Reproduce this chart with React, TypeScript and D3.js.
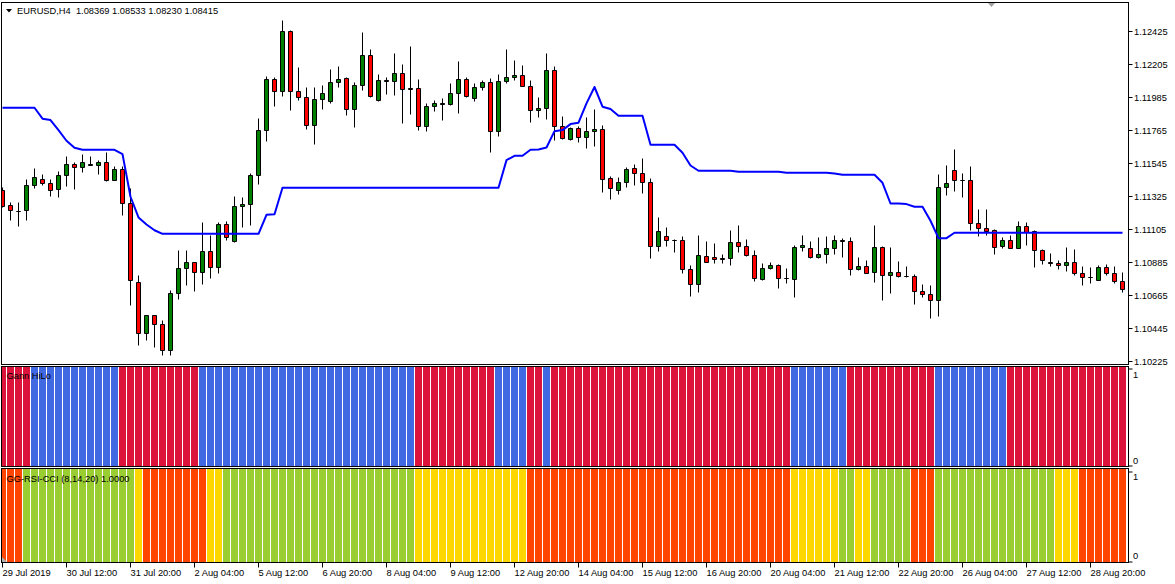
import React from "react";
import * as d3 from "d3";

// ---------- DATA ----------
const opens = [
  1.11365, 1.11263, 1.11223, 1.11227, 1.11394, 1.11436, 1.11409, 1.11369, 1.11461, 1.11536,
  1.11516, 1.11533, 1.11527, 1.11549, 1.11432, 1.11503, 1.11276, 1.10749, 1.10409, 1.10529,
  1.10469, 1.10294, 1.10674, 1.10841, 1.10883, 1.10814, 1.10958, 1.10847, 1.11136, 1.11023,
  1.11256, 1.11267, 1.11463, 1.11763, 1.12103, 1.12023, 1.12423, 1.12023, 1.11983, 1.11796,
  1.11969, 1.11956, 1.12083, 1.12109, 1.11903, 1.12063, 1.12263, 1.11963, 1.12089, 1.12089,
  1.12143, 1.12041, 1.12043, 1.11789, 1.11923, 1.11936, 1.11934, 1.12007, 1.12103, 1.11976,
  1.12049, 1.12083, 1.11756, 1.12089, 1.12116, 1.12129, 1.12056, 1.11896, 1.11907, 1.12163,
  1.11787, 1.11703, 1.11776, 1.11716, 1.11756, 1.11769, 1.11443, 1.11363, 1.11416, 1.11509,
  1.11476, 1.11416, 1.10987, 1.11056, 1.11032, 1.11029, 1.10836, 1.10736, 1.10923, 1.10916,
  1.10909, 1.10909, 1.11016, 1.10989, 1.10929, 1.10769, 1.10841, 1.10863, 1.10778, 1.10769,
  1.10983, 1.10976, 1.10916, 1.10936, 1.10976, 1.11029, 1.11025, 1.10836, 1.10856, 1.10814,
  1.10983, 1.10794, 1.10816, 1.10792, 1.10789, 1.10689, 1.10669, 1.10629, 1.11383, 1.11496,
  1.11432, 1.11429, 1.11143, 1.11109, 1.11096, 1.10987, 1.11029, 1.10974, 1.11123, 1.11087,
  1.10963, 1.10883, 1.10876, 1.10863, 1.10883, 1.10809, 1.10785, 1.10763, 1.10849, 1.10809,
  1.10754,
];

const highs = [
  1.11383, 1.11285, 1.11285, 1.11436, 1.11507, 1.11467, 1.11438, 1.11492, 1.11592, 1.11547,
  1.11605, 1.11592, 1.11565, 1.11616, 1.11525, 1.11521, 1.11374, 1.10798, 1.10529, 1.10529,
  1.10498, 1.10698, 1.10961, 1.10965, 1.10883, 1.11152, 1.11065, 1.11152, 1.11158, 1.11325,
  1.11318, 1.11474, 1.11841, 1.12125, 1.12114, 1.12492, 1.12427, 1.12183, 1.12049, 1.12049,
  1.12063, 1.12169, 1.12189, 1.12116, 1.12083, 1.12416, 1.12303, 1.12136, 1.12116, 1.12276,
  1.12203, 1.12323, 1.12103, 1.11943, 1.11965, 1.11976, 1.12076, 1.12223, 1.12116, 1.12076,
  1.12096, 1.12109, 1.12136, 1.12303, 1.12229, 1.12196, 1.12096, 1.11983, 1.12278, 1.12189,
  1.11856, 1.11783, 1.11792, 1.11849, 1.11903, 1.11796, 1.11458, 1.11449, 1.11516, 1.11538,
  1.11578, 1.11443, 1.11185, 1.11118, 1.11036, 1.11058, 1.10865, 1.11065, 1.11025, 1.11012,
  1.10938, 1.11098, 1.11132, 1.11034, 1.10965, 1.10878, 1.10883, 1.10867, 1.10845, 1.10998,
  1.11065, 1.11025, 1.11052, 1.11058, 1.11065, 1.11045, 1.11049, 1.10918, 1.10898, 1.11132,
  1.10989, 1.10985, 1.10892, 1.10858, 1.10803, 1.10738, 1.10732, 1.11472, 1.11532, 1.11636,
  1.11476, 1.11525, 1.11238, 1.11238, 1.11101, 1.11049, 1.11065, 1.11158, 1.11149, 1.11096,
  1.10969, 1.10941, 1.10898, 1.10981, 1.10972, 1.10856, 1.10852, 1.10863, 1.10869, 1.10856,
  1.10818,
];

const lows = [
  1.11249, 1.11161, 1.11121, 1.11165, 1.11376, 1.11394, 1.11325, 1.11314, 1.11387, 1.11372,
  1.11485, 1.11527, 1.11472, 1.11423, 1.11427, 1.11194, 1.10594, 1.10327, 1.10365, 1.10316,
  1.10261, 1.10261, 1.10634, 1.10732, 1.10687, 1.10738, 1.10774, 1.10807, 1.11032, 1.11014,
  1.11114, 1.11132, 1.11405, 1.11692, 1.11925, 1.11987, 1.11894, 1.11961, 1.11767, 1.11667,
  1.11901, 1.11941, 1.12047, 1.11861, 1.11781, 1.12027, 1.11983, 1.11956, 1.12001, 1.11994,
  1.11807, 1.11869, 1.11761, 1.11754, 1.11887, 1.11827, 1.11927, 1.11874, 1.11985, 1.11954,
  1.12027, 1.11614, 1.11721, 1.12076, 1.12094, 1.12054, 1.11814, 1.11847, 1.11834, 1.11694,
  1.11703, 1.11694, 1.11681, 1.11643, 1.11654, 1.11347, 1.11301, 1.11334, 1.11381, 1.11394,
  1.11341, 1.10907, 1.10954, 1.10987, 1.10947, 1.10807, 1.10656, 1.10681, 1.1088, 1.10874,
  1.10874, 1.10865, 1.10947, 1.10921, 1.10754, 1.10761, 1.10834, 1.10707, 1.10741, 1.10649,
  1.10954, 1.10907, 1.10907, 1.10874, 1.10936, 1.10914, 1.10794, 1.10832, 1.10807, 1.10747,
  1.10627, 1.10674, 1.10781, 1.10781, 1.10601, 1.10649, 1.10507, 1.10523, 1.11327, 1.11354,
  1.11314, 1.11098, 1.11054, 1.11061, 1.10934, 1.10974, 1.10974, 1.10974, 1.10994, 1.10847,
  1.10867, 1.10856, 1.10834, 1.10821, 1.10794, 1.10727, 1.10741, 1.10761, 1.10794, 1.10741,
  1.10681,
];

const closes = [
  1.11258, 1.11229, 1.11223, 1.11398, 1.11449, 1.11409, 1.11361, 1.11463, 1.11536, 1.11514,
  1.11549, 1.1153, 1.11549, 1.11432, 1.11503, 1.11276, 1.10761, 1.10409, 1.10529, 1.10469,
  1.10298, 1.10676, 1.10843, 1.10883, 1.10814, 1.10958, 1.10847, 1.11136, 1.11049, 1.11256,
  1.11272, 1.11465, 1.11763, 1.12103, 1.12023, 1.12423, 1.12023, 1.11983, 1.11796, 1.11969,
  1.12009, 1.12083, 1.12103, 1.11903, 1.12063, 1.12263, 1.11989, 1.12096, 1.12098, 1.12143,
  1.12036, 1.12036, 1.11789, 1.11923, 1.11943, 1.11941, 1.12009, 1.12103, 1.11989, 1.12049,
  1.12083, 1.11756, 1.12089, 1.12116, 1.12129, 1.12056, 1.11896, 1.11909, 1.12163, 1.11789,
  1.11709, 1.11776, 1.11716, 1.11756, 1.11772, 1.11434, 1.11376, 1.11416, 1.11503, 1.11476,
  1.11416, 1.10987, 1.11092, 1.11029, 1.11032, 1.10836, 1.10736, 1.10929, 1.10883, 1.10901,
  1.10905, 1.11016, 1.10987, 1.10927, 1.10776, 1.10843, 1.10863, 1.10776, 1.10774, 1.10983,
  1.10996, 1.10916, 1.10936, 1.10976, 1.11029, 1.11025, 1.10836, 1.10856, 1.10809, 1.10983,
  1.10794, 1.10816, 1.10787, 1.10787, 1.10687, 1.10669, 1.10629, 1.11383, 1.11409, 1.11429,
  1.11427, 1.11143, 1.11109, 1.11089, 1.10983, 1.11029, 1.10976, 1.11123, 1.11083, 1.10963,
  1.10896, 1.10876, 1.10863, 1.10883, 1.10809, 1.10783, 1.10781, 1.10849, 1.10809, 1.10754,
  1.10703,
];

// Gann HiLo activator line on the price chart
const gannLine = [
  1.11914, 1.11914, 1.11914, 1.11914, 1.11914, 1.11841, 1.11832, 1.11765, 1.11694, 1.11647,
  1.11634, 1.11634, 1.11634, 1.11634, 1.11634, 1.11605, 1.11321, 1.11183, 1.11136, 1.11098,
  1.11074, 1.11074, 1.11074, 1.11074, 1.11074, 1.11074, 1.11074, 1.11074, 1.11074, 1.11074,
  1.11074, 1.11074, 1.11074, 1.11201, 1.11205, 1.11381, 1.11381, 1.11381, 1.11381, 1.11381,
  1.11381, 1.11381, 1.11381, 1.11381, 1.11381, 1.11381, 1.11381, 1.11381, 1.11381, 1.11381,
  1.11381, 1.11381, 1.11381, 1.11381, 1.11381, 1.11381, 1.11381, 1.11381, 1.11381, 1.11381,
  1.11381, 1.11381, 1.11381, 1.11565, 1.11594, 1.11594, 1.11634, 1.11636, 1.11649, 1.11758,
  1.11765, 1.11805, 1.11814, 1.11943, 1.12052, 1.11921, 1.11905, 1.11861, 1.11861, 1.11861,
  1.11861, 1.11667, 1.11667, 1.11667, 1.11667, 1.11614, 1.11529, 1.11494, 1.11494, 1.11494,
  1.11494, 1.11494, 1.11487, 1.11487, 1.11487, 1.11487, 1.11487, 1.11487, 1.11481, 1.11481,
  1.11481, 1.11481, 1.11481, 1.11481, 1.11476, 1.11467, 1.11467, 1.11467, 1.11467, 1.11467,
  1.11414, 1.11276, 1.11276, 1.11272, 1.11254, 1.11254, 1.11161, 1.11045, 1.11045, 1.11081,
  1.11081, 1.11081, 1.11081, 1.11081, 1.11081, 1.11081, 1.11081, 1.11081, 1.11081, 1.11081,
  1.11081, 1.11081, 1.11081, 1.11081, 1.11081, 1.11081, 1.11081, 1.11081, 1.11081, 1.11081,
  1.11081,
];

// per-bar state of the "Gann HiLo" sub-window (R = down, B = up)
const gannStates = (
  "RRRRBBBBBB BBBBBRRRRR RRRRRBBBBB BBBBBBBBBB BBBBBBBBBB " +
  "BBRRRRRRRR RRBBBBRRBR RRRRRRRRRR RRRRRRRRRR RRRRRRRRRB " +
  "BBBBBBRRRR RRRRRRRBBB BBBBBBRRRR RRRRRRRRRR R"
).replace(/ /g, "");

// per-bar state of the "GG-RSI-CCI" sub-window (O = down, G = up, Y = neutral)
const ggStates = (
  "OOOGGGGGGG GGGGGGGYOO OOOOOOYYGG GGGGGGGGGG GGGGGGGGGG " +
  "GGYYYYYYYY YYYYYYOOOO OOOOOOOOOO OOOOOOOOOO OOOOOOOOOY " +
  "YYYYYGGYYG GGGGOOOGGG GGGGGGGGGG GGYYYOOOOO O"
).replace(/ /g, "");

const priceTicks = [
  1.12425, 1.12205, 1.11985, 1.11765, 1.11545, 1.11325, 1.11105, 1.10885, 1.10665, 1.10445, 1.10225,
];

const timeTickBars = [0, 8, 16, 24, 32, 40, 48, 56, 64, 72, 80, 88, 96, 104, 112, 120, 128, 136];
const timeLabels = [
  "29 Jul 2019", "30 Jul 12:00", "31 Jul 20:00", "2 Aug 04:00", "5 Aug 12:00", "6 Aug 20:00",
  "8 Aug 04:00", "9 Aug 12:00", "12 Aug 20:00", "14 Aug 04:00", "15 Aug 12:00", "16 Aug 20:00",
  "20 Aug 04:00", "21 Aug 12:00", "22 Aug 20:00", "26 Aug 04:00", "27 Aug 12:00", "28 Aug 20:00",
];

const indicatorTicks = [1, 0];

const titleText = "EURUSD,H4  1.08369 1.08533 1.08230 1.08415";
const gannTitle = "Gann HiLo";
const ggTitle = "GG-RSI-CCI (8,14,20) 1.0000";

// ---------- STYLE ----------
const W = 1175;
const H = 584;
const FONT = "Tahoma, 'Liberation Sans', Arial, sans-serif";
const FS = 9.3;
const BULL = "#008000";
const BEAR = "#FF0000";
const gannColors: Record<string, string> = { R: "#DC143C", B: "#4169E1" };
const ggColors: Record<string, string> = { O: "#FF4500", G: "#9ACD32", Y: "#FFD700" };

const LEFT = 1.5;
const RIGHT = 1128.5;
const MAIN = { top: 2.5, bottom: 364.5 };
const GANN = { top: 366.5, bottom: 466.5 };
const GG = { top: 468.5, bottom: 562.5 };

export default function App() {
  const n = opens.length;
  const x = d3.scaleLinear().domain([0, n - 1]).range([2.5, 2.5 + 8 * (n - 1)]);
  const y = d3.scaleLinear().domain([1.10225, 1.12425]).range([361.3, 31]);
  const yGann = d3.scaleLinear().domain([0, 1]).range([GANN.bottom - 0.5, GANN.top + 0.5]);
  const yGG = d3.scaleLinear().domain([0, 1]).range([GG.bottom - 0.5, GG.top + 0.5]);

  const cx = (i: number) => Math.round(x(i) - 0.5) + 0.5;
  const py = (v: number) => Math.round(y(v) - 0.5) + 0.5;

  const linePath =
    d3
      .line<number>()
      .x((_, i) => x(i))
      .y((d) => y(d))(gannLine) || "";

  const textStyle: React.CSSProperties = { fontFamily: FONT, fontSize: FS, fill: "#000" };

  return (
    <svg
      width={W}
      height={H}
      viewBox={`0 0 ${W} ${H}`}
      style={{ position: "absolute", left: 0, top: 0, display: "block", background: "#fff" }}
    >
      <defs>
        <clipPath id="clipMain">
          <rect x={2} y={3} width={RIGHT - 0.5 - 2} height={MAIN.bottom - 0.5 - 3} />
        </clipPath>
        <clipPath id="clipGann">
          <rect x={2} y={GANN.top + 0.5} width={RIGHT - 0.5 - 2} height={GANN.bottom - GANN.top - 1} />
        </clipPath>
        <clipPath id="clipGG">
          <rect x={2} y={GG.top + 0.5} width={RIGHT - 0.5 - 2} height={GG.bottom - GG.top - 1} />
        </clipPath>
      </defs>
      <rect x={0} y={0} width={W} height={H} fill="#fff" />

      {/* ---------- main price window ---------- */}
      <g clipPath="url(#clipMain)">
        {opens.map((o, i) => {
          const c = closes[i];
          const px = cx(i);
          const top = py(Math.max(o, c));
          const bot = py(Math.min(o, c));
          const fill = c > o ? BULL : c < o ? BEAR : "none";
          return (
            <g key={i}>
              <line x1={px} x2={px} y1={py(highs[i])} y2={py(lows[i])} stroke="#000" strokeWidth={1} />
              <path
                d={`M${px - 2},${top}H${px + 2}V${bot}H${px - 2}Z`}
                fill={fill}
                stroke="#000"
                strokeWidth={1}
              />
            </g>
          );
        })}
        <path d={linePath} fill="none" stroke="#0000FF" strokeWidth={2} strokeLinejoin="round" />
      </g>
      <rect
        x={LEFT}
        y={MAIN.top}
        width={RIGHT - LEFT}
        height={MAIN.bottom - MAIN.top}
        fill="none"
        stroke="#000"
        strokeWidth={1}
      />
      {/* title */}
      <path d="M6,9 L12,9 L9,12.5 Z" fill="#000" />
      <text x={17} y={14} style={textStyle} xmlSpace="preserve">
        {titleText}
      </text>
      {/* shift marker */}
      <path d="M988,3 L995,3 L991.5,7 Z" fill="#A0A0A0" />

      {/* price axis */}
      {priceTicks.map((p) => {
        const ty = Math.round(y(p) - 0.5) + 0.5;
        return (
          <g key={p}>
            <line x1={RIGHT + 0.5} x2={RIGHT + 4} y1={ty} y2={ty} stroke="#000" />
            <text x={1134} y={y(p) + 4} style={textStyle}>
              {p.toFixed(5)}
            </text>
          </g>
        );
      })}

      {/* ---------- Gann HiLo window ---------- */}
      <g clipPath="url(#clipGann)">
        {gannStates.split("").map((s, i) => (
          <rect
            key={i}
            x={cx(i) - 3.5}
            y={yGann(1) - 0.5}
            width={7}
            height={yGann(0) - yGann(1) + 1}
            fill={gannColors[s]}
          />
        ))}
      </g>
      <rect
        x={LEFT}
        y={GANN.top}
        width={RIGHT - LEFT}
        height={GANN.bottom - GANN.top}
        fill="none"
        stroke="#000"
      />
      <text x={6.5} y={379} style={textStyle}>
        {gannTitle}
      </text>
      {indicatorTicks.map((v) => {
        const ty = v === 1 ? yGann(v) + 2 : yGann(v);
        return (
          <g key={"g" + v}>
            <line x1={RIGHT + 0.5} x2={RIGHT + 4} y1={ty} y2={ty} stroke="#000" />
            <text x={1133} y={v === 1 ? yGann(v) + 10.5 : yGann(v) - 2.5} style={textStyle}>
              {String(v)}
            </text>
          </g>
        );
      })}

      {/* ---------- GG-RSI-CCI window ---------- */}
      <g clipPath="url(#clipGG)">
        {ggStates.split("").map((s, i) => (
          <rect
            key={i}
            x={cx(i) - 3.5}
            y={yGG(1) - 0.5}
            width={7}
            height={yGG(0) - yGG(1) + 1}
            fill={ggColors[s]}
          />
        ))}
      </g>
      <rect
        x={LEFT}
        y={GG.top}
        width={RIGHT - LEFT}
        height={GG.bottom - GG.top}
        fill="none"
        stroke="#000"
      />
      <text x={6.5} y={481.5} style={textStyle}>
        {ggTitle}
      </text>
      <path d="M2,557 L2,562 L7,562 Z" fill="#B0B0B0" />
      {indicatorTicks.map((v) => {
        const ty = v === 1 ? yGG(v) + 3 : yGG(v);
        return (
          <g key={"gg" + v}>
            <line x1={RIGHT + 0.5} x2={RIGHT + 4} y1={ty} y2={ty} stroke="#000" />
            <text x={1133} y={v === 1 ? yGG(v) + 10.5 : yGG(v) - 3} style={textStyle}>
              {String(v)}
            </text>
          </g>
        );
      })}

      {/* ---------- time axis ---------- */}
      {timeTickBars.map((b, j) => {
        const tx = cx(b);
        return (
          <g key={"t" + b}>
            <line x1={tx} x2={tx} y1={GG.bottom + 0.5} y2={GG.bottom + 5} stroke="#000" />
            <text x={tx} y={575.5} style={textStyle}>
              {timeLabels[j]}
            </text>
          </g>
        );
      })}
    </svg>
  );
}
